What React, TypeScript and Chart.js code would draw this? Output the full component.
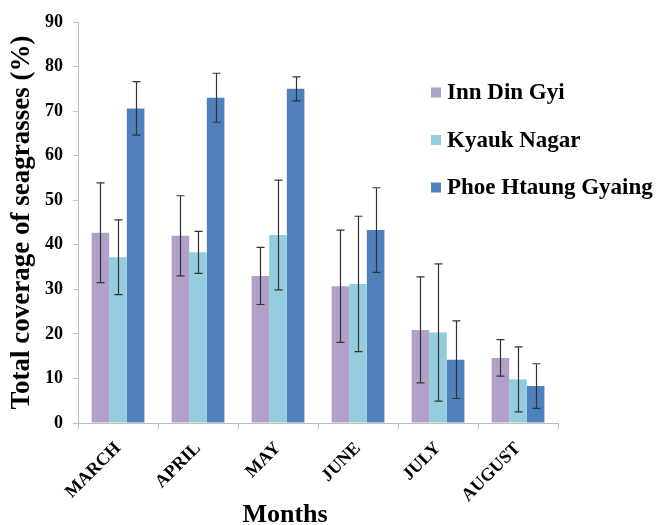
import React, { useEffect, useRef } from "react";
import { Chart, registerables } from "chart.js";

Chart.register(...registerables);

const months = ["MARCH", "APRIL", "MAY", "JUNE", "JULY", "AUGUST"];
const innDinGyi = [42.7, 42.0, 33.0, 30.7, 20.9, 14.6];
const innDinGyiErr = [11.2, 9.0, 6.4, 12.6, 11.9, 4.1];
const kyaukNagar = [37.2, 38.3, 42.2, 31.2, 20.3, 9.8];
const kyaukNagarErr = [8.4, 4.7, 12.3, 15.2, 15.4, 7.3];
const phoeHtaungGyaing = [70.6, 73.0, 75.0, 43.3, 14.2, 8.3];
const phoeHtaungGyaingErr = [6.0, 5.5, 2.7, 9.5, 8.7, 5.0];
const seriesNames = ["Inn Din Gyi", "Kyauk Nagar", "Phoe Htaung Gyaing"];
const yTicks = [0, 10, 20, 30, 40, 50, 60, 70, 80, 90];
const xTitle = "Months";
const yTitle = "Total coverage of seagrasses (%)";

const FONT = "'Liberation Serif', 'Times New Roman', serif";

const errorBarPlugin = {
  id: "errorBars",
  afterDatasetsDraw(chart: any) {
    const ctx = chart.ctx;
    const yScale = chart.scales.y;
    ctx.save();
    ctx.strokeStyle = "#333333";
    ctx.lineWidth = 1.2;
    chart.data.datasets.forEach((ds: any, di: number) => {
      const meta = chart.getDatasetMeta(di);
      meta.data.forEach((bar: any, i: number) => {
        const v = ds.data[i];
        const e = ds.errors[i];
        const x = Math.round(bar.x) + 0.5;
        const yt = yScale.getPixelForValue(v + e);
        const yb = yScale.getPixelForValue(v - e);
        const cap = 4;
        ctx.beginPath();
        ctx.moveTo(x, yt);
        ctx.lineTo(x, yb);
        ctx.moveTo(x - cap, yt);
        ctx.lineTo(x + cap, yt);
        ctx.moveTo(x - cap, yb);
        ctx.lineTo(x + cap, yb);
        ctx.stroke();
      });
    });
    ctx.restore();
  },
};

const legendPlugin = {
  id: "customLegend",
  afterDraw(chart: any) {
    const ctx = chart.ctx;
    const x0 = 431;
    const ys = [92.5, 140, 187.5];
    ctx.save();
    chart.data.datasets.forEach((ds: any, i: number) => {
      const y = ys[i];
      ctx.fillStyle = ds.backgroundColor;
      ctx.fillRect(x0, y - 5, 10, 10);
      ctx.fillStyle = "#000";
      ctx.font = `bold 23px ${FONT}`;
      ctx.textBaseline = "middle";
      ctx.textAlign = "left";
      ctx.fillText(ds.label, x0 + 16, y + 1);
    });
    // x-axis title
    ctx.font = `bold 26px ${FONT}`;
    ctx.textAlign = "center";
    ctx.textBaseline = "alphabetic";
    ctx.fillText(xTitle, 285, 522);
    ctx.restore();
  },
};

export default function App() {
  const ref = useRef<HTMLCanvasElement>(null);
  useEffect(() => {
    document.body.style.margin = "0";
    const chart = new Chart(ref.current!, {
      type: "bar",
      data: {
        labels: months,
        datasets: [
          { label: seriesNames[0], data: innDinGyi, errors: innDinGyiErr, backgroundColor: "#b1a0c8" } as any,
          { label: seriesNames[1], data: kyaukNagar, errors: kyaukNagarErr, backgroundColor: "#93cddd" } as any,
          { label: seriesNames[2], data: phoeHtaungGyaing, errors: phoeHtaungGyaingErr, backgroundColor: "#4f81bd" } as any,
        ],
      },
      options: {
        responsive: false,
        animation: false,
        layout: { padding: { top: 22, right: 98, left: 0, bottom: 0 } },
        datasets: { bar: { categoryPercentage: 0.66, barPercentage: 1 } },
        plugins: { legend: { display: false }, tooltip: { enabled: false } },
        scales: {
          x: {
            grid: { drawOnChartArea: false, color: "#bfbfbf", tickLength: 6, offset: true },
            border: { color: "#bfbfbf" },
            ticks: {
              color: "#000",
              font: { family: FONT, size: 18, weight: "bold" },
              minRotation: 45,
              maxRotation: 45,
              autoSkip: false,
              padding: 9,
            },
            title: { display: false },
            afterFit: (s: any) => {
              s.height = 102;
            },
          },
          y: {
            min: 0,
            max: 90,
            afterBuildTicks: (s: any) => {
              s.ticks = yTicks.map((v) => ({ value: v }));
            },
            grid: { drawOnChartArea: false, color: "#bfbfbf", tickLength: 5 },
            border: { color: "#bfbfbf" },
            ticks: {
              color: "#000",
              font: { family: FONT, size: 18, weight: "bold" },
              padding: 10,
            },
            title: {
              display: true,
              text: yTitle,
              color: "#000",
              font: { family: FONT, size: 27, weight: "bold", lineHeight: 1 },
              padding: { top: 9, bottom: 0 },
            },
            afterFit: (s: any) => {
              s.width = 78;
            },
          },
        },
      } as any,
      plugins: [errorBarPlugin, legendPlugin],
    });
    return () => chart.destroy();
  }, []);
  return <canvas ref={ref} width={656} height={525} />;
}
